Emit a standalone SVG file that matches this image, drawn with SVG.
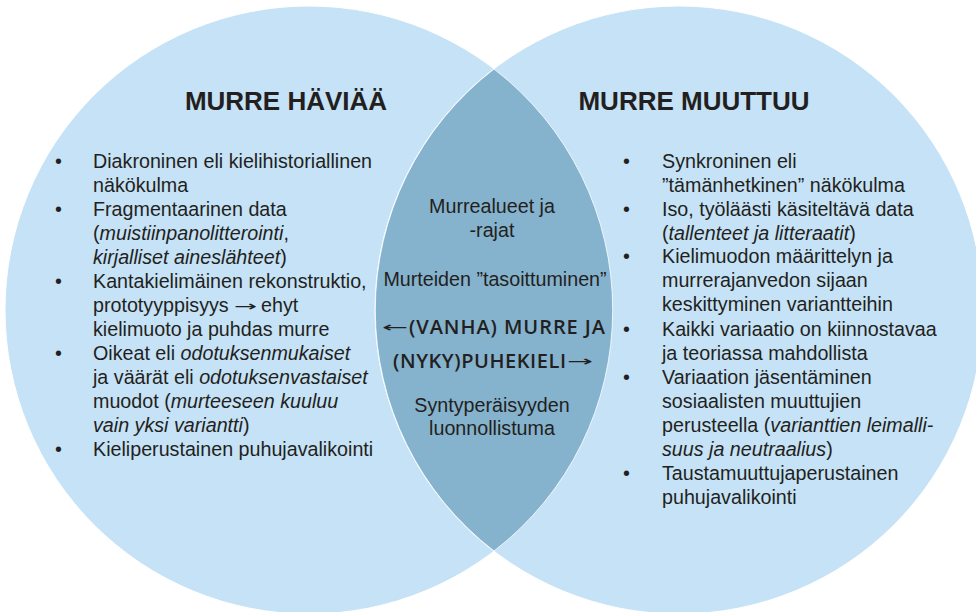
<svg xmlns="http://www.w3.org/2000/svg" width="976" height="612" viewBox="0 0 976 612">
<style>
.c{fill:#c5e2f6;stroke:#ffffff;stroke-width:1}
.lens{fill:#85b2cd;stroke:#ffffff;stroke-width:0.8}
text{font-family:"Liberation Sans",Arial,sans-serif;fill:#231f20}
.t{font-size:26px;font-weight:bold}
.b{font-size:19.7px}
.i{font-style:italic}
.m{font-size:19.7px;text-anchor:middle}
.sc{font-family:"Open Sans","Noto Sans",sans-serif;font-size:20px;font-weight:600}
.ar{font-family:"DejaVu Sans",sans-serif;font-size:14px}
</style>
<rect width="976" height="612" fill="#ffffff"/>
<g id="left-circle">
<circle class="c" cx="309" cy="310" r="304"/>
</g>
<g id="right-circle">
<circle class="c" cx="679" cy="310" r="304"/>
</g>
<g id="overlap">
<path class="lens" d="M494,69 A304,304 0 0 0 494,551 A304,304 0 0 0 494,69 Z"/>
</g>
<g id="left-text">
<text class="t" x="286" y="110" text-anchor="middle">MURRE HÄVIÄÄ</text>
<text class="b" x="55" y="168">•</text>
<text class="b" x="55" y="216">•</text>
<text class="b" x="55" y="288">•</text>
<text class="b" x="55" y="360">•</text>
<text class="b" x="55" y="456">•</text>
<text class="b" x="93" y="168">Diakroninen eli kielihistoriallinen</text>
<text class="b" x="93" y="192">näkökulma</text>
<text class="b" x="93" y="216">Fragmentaarinen data</text>
<text class="b" x="93" y="240">(<tspan class="i">muistiinpanolitterointi</tspan>,</text>
<text class="b" x="93" y="264"><tspan class="i">kirjalliset aineslähteet</tspan>)</text>
<text class="b" x="93" y="288">Kantakielimäinen rekonstruktio,</text>
<text class="b" x="93" y="312">prototyyppisyys</text>
<text class="ar" x="234" y="311" textLength="23" lengthAdjust="spacingAndGlyphs">→</text>
<text class="b" x="261" y="312">ehyt</text>
<text class="b" x="93" y="336">kielimuoto ja puhdas murre</text>
<text class="b" x="93" y="360">Oikeat eli <tspan class="i">odotuksenmukaiset</tspan></text>
<text class="b" x="93" y="384">ja väärät eli <tspan class="i">odotuksenvastaiset</tspan></text>
<text class="b" x="93" y="408">muodot (<tspan class="i">murteeseen kuuluu</tspan></text>
<text class="b" x="93" y="432"><tspan class="i">vain yksi variantti</tspan>)</text>
<text class="b" x="93" y="456">Kieliperustainen puhujavalikointi</text>
</g>
<g id="right-text">
<text class="t" x="694" y="110" text-anchor="middle">MURRE MUUTTUU</text>
<text class="b" x="623" y="168">•</text>
<text class="b" x="623" y="216">•</text>
<text class="b" x="623" y="263">•</text>
<text class="b" x="623" y="336">•</text>
<text class="b" x="623" y="384">•</text>
<text class="b" x="623" y="480">•</text>
<text class="b" x="662" y="168">Synkroninen eli</text>
<text class="b" x="662" y="192">”tämänhetkinen” näkökulma</text>
<text class="b" x="662" y="216">Iso, työläästi käsiteltävä data</text>
<text class="b" x="662" y="240">(<tspan class="i">tallenteet ja litteraatit</tspan>)</text>
<text class="b" x="662" y="263">Kielimuodon määrittelyn ja</text>
<text class="b" x="662" y="287">murrerajanvedon sijaan</text>
<text class="b" x="662" y="311">keskittyminen variantteihin</text>
<text class="b" x="662" y="336">Kaikki variaatio on kiinnostavaa</text>
<text class="b" x="662" y="360">ja teoriassa mahdollista</text>
<text class="b" x="662" y="384">Variaation jäsentäminen</text>
<text class="b" x="662" y="408">sosiaalisten muuttujien</text>
<text class="b" x="662" y="432">perusteella (<tspan class="i">varianttien leimalli-</tspan></text>
<text class="b" x="662" y="456"><tspan class="i">suus ja neutraalius</tspan>)</text>
<text class="b" x="662" y="480">Taustamuuttujaperustainen</text>
<text class="b" x="662" y="504">puhujavalikointi</text>
</g>
<g id="overlap-text">
<text class="m" x="492" y="213">Murrealueet ja</text>
<text class="m" x="492" y="237">-rajat</text>
<text class="m" x="495" y="286">Murteiden ”tasoittuminen”</text>
<text class="ar" x="382" y="332" textLength="26" lengthAdjust="spacingAndGlyphs">←</text>
<text class="sc" x="409" y="334" textLength="196" lengthAdjust="spacing">(VANHA) MURRE JA</text>
<text class="sc" x="393" y="368" textLength="173" lengthAdjust="spacing">(NYKY)PUHEKIELI</text>
<text class="ar" x="567" y="366" textLength="26" lengthAdjust="spacingAndGlyphs">→</text>
<text class="m" x="492" y="412">Syntyperäisyyden</text>
<text class="m" x="492" y="435">luonnollistuma</text>
</g>
</svg>
